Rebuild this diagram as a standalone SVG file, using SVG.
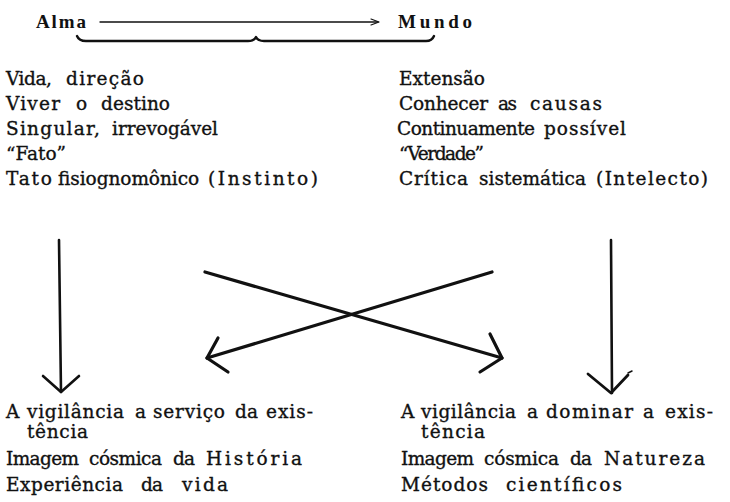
<svg xmlns="http://www.w3.org/2000/svg" width="730" height="502" viewBox="0 0 730 502">
<style>
.t{font-family:"DejaVu Serif","Liberation Serif",serif;font-size:18.5px;fill:#111;stroke:#111;stroke-width:0.35;}
.h{font-family:"Liberation Serif",serif;font-size:19px;font-weight:bold;fill:#111;}
.ln{stroke:#111;fill:none;stroke-linecap:round;stroke-linejoin:round;}
</style>
<rect width="730" height="502" fill="#fff"/>
<g id="header">
<text class="h" x="36" y="28" textLength="50" lengthAdjust="spacing">Alma</text>
<text class="h" x="398" y="28" textLength="74" lengthAdjust="spacing">Mundo</text>
</g>
<g id="left-top">
<text class="t" x="6" y="85" textLength="46" lengthAdjust="spacing">Vida,</text>
<text class="t" x="66" y="85" textLength="78" lengthAdjust="spacing">direção</text>
<text class="t" x="6" y="110" textLength="54" lengthAdjust="spacing">Viver</text>
<text class="t" x="76" y="110" textLength="11" lengthAdjust="spacing">o</text>
<text class="t" x="101" y="110" textLength="69" lengthAdjust="spacing">destino</text>
<text class="t" x="6" y="135" textLength="94" lengthAdjust="spacing">Singular,</text>
<text class="t" x="112" y="135" textLength="106" lengthAdjust="spacing">irrevogável</text>
<text class="t" x="6" y="160" textLength="60" lengthAdjust="spacing">“Fato”</text>
<text class="t" x="6" y="185" textLength="46" lengthAdjust="spacing">Tato</text>
<text class="t" x="58" y="185" textLength="141" lengthAdjust="spacing">fisiognomônico</text>
<text class="t" x="208" y="185" textLength="110" lengthAdjust="spacing">(Instinto)</text>
</g>
<g id="right-top">
<text class="t" x="399" y="85" textLength="86" lengthAdjust="spacing">Extensão</text>
<text class="t" x="399" y="110" textLength="89" lengthAdjust="spacing">Conhecer</text>
<text class="t" x="498" y="110" textLength="19" lengthAdjust="spacing">as</text>
<text class="t" x="530" y="110" textLength="72" lengthAdjust="spacing">causas</text>
<text class="t" x="397" y="135" textLength="138" lengthAdjust="spacing">Continuamente</text>
<text class="t" x="544" y="135" textLength="82" lengthAdjust="spacing">possível</text>
<text class="t" x="399" y="160" textLength="85" lengthAdjust="spacing">“Verdade”</text>
<text class="t" x="399" y="185" textLength="69" lengthAdjust="spacing">Crítica</text>
<text class="t" x="479" y="185" textLength="107" lengthAdjust="spacing">sistemática</text>
<text class="t" x="596" y="185" textLength="112" lengthAdjust="spacing">(Intelecto)</text>
</g>
<g id="left-bottom">
<text class="t" x="6" y="418" textLength="13" lengthAdjust="spacing">A</text>
<text class="t" x="27" y="418" textLength="97" lengthAdjust="spacing">vigilância</text>
<text class="t" x="135" y="418" textLength="10" lengthAdjust="spacing">a</text>
<text class="t" x="153" y="418" textLength="72" lengthAdjust="spacing">serviço</text>
<text class="t" x="235" y="418" textLength="23" lengthAdjust="spacing">da</text>
<text class="t" x="266" y="418" textLength="47" lengthAdjust="spacing">exis-</text>
<text class="t" x="27" y="438" textLength="61" lengthAdjust="spacing">tência</text>
<text class="t" x="6" y="465" textLength="73" lengthAdjust="spacing">Imagem</text>
<text class="t" x="89" y="465" textLength="73" lengthAdjust="spacing">cósmica</text>
<text class="t" x="173" y="465" textLength="22" lengthAdjust="spacing">da</text>
<text class="t" x="206" y="465" textLength="96" lengthAdjust="spacing">História</text>
<text class="t" x="6" y="491" textLength="117" lengthAdjust="spacing">Experiência</text>
<text class="t" x="141" y="491" textLength="22" lengthAdjust="spacing">da</text>
<text class="t" x="182" y="491" textLength="46" lengthAdjust="spacing">vida</text>
</g>
<g id="right-bottom">
<text class="t" x="401" y="418" textLength="13" lengthAdjust="spacing">A</text>
<text class="t" x="421" y="418" textLength="95" lengthAdjust="spacing">vigilância</text>
<text class="t" x="527" y="418" textLength="11" lengthAdjust="spacing">a</text>
<text class="t" x="546" y="418" textLength="87" lengthAdjust="spacing">dominar</text>
<text class="t" x="643" y="418" textLength="11" lengthAdjust="spacing">a</text>
<text class="t" x="665" y="418" textLength="48" lengthAdjust="spacing">exis-</text>
<text class="t" x="421" y="438" textLength="64" lengthAdjust="spacing">tência</text>
<text class="t" x="401" y="465" textLength="73" lengthAdjust="spacing">Imagem</text>
<text class="t" x="484" y="465" textLength="75" lengthAdjust="spacing">cósmica</text>
<text class="t" x="570" y="465" textLength="22" lengthAdjust="spacing">da</text>
<text class="t" x="604" y="465" textLength="101" lengthAdjust="spacing">Natureza</text>
<text class="t" x="401" y="491" textLength="87" lengthAdjust="spacing">Métodos</text>
<text class="t" x="506" y="491" textLength="116" lengthAdjust="spacing">científicos</text>
</g>
<g id="connectors">
<path class="ln" stroke-width="1.4" d="M100,22 L378,22"/>
<path class="ln" stroke-width="1.2" d="M371,19 L379,22 L371,25"/>
<path class="ln" stroke-width="2.4" d="M77,36 Q79,41 86,41 L248,41 Q254,41 256,37 Q258,41 264,41 L426,41 Q432,41 434,36"/>
<path class="ln" stroke-width="2.6" d="M59,240 L61,392"/>
<path class="ln" stroke-width="2.6" d="M43,376 L61,392 L79,376"/>
<path class="ln" stroke-width="2.6" d="M611,240 L612,393"/>
<path class="ln" stroke-width="2.8" d="M588,374 L611,393 L628,375"/>
<path class="ln" stroke-width="1.5" d="M628,373 L632,371"/>
<path class="ln" stroke-width="3.2" d="M205,272 L502,358"/>
<path class="ln" stroke-width="3.2" d="M490,334 L502,358 L480,372"/>
<path class="ln" stroke-width="3.2" d="M492,272 L207,358"/>
<path class="ln" stroke-width="3.2" d="M218,338 L207,358 L228,372"/>
</g>
</svg>
